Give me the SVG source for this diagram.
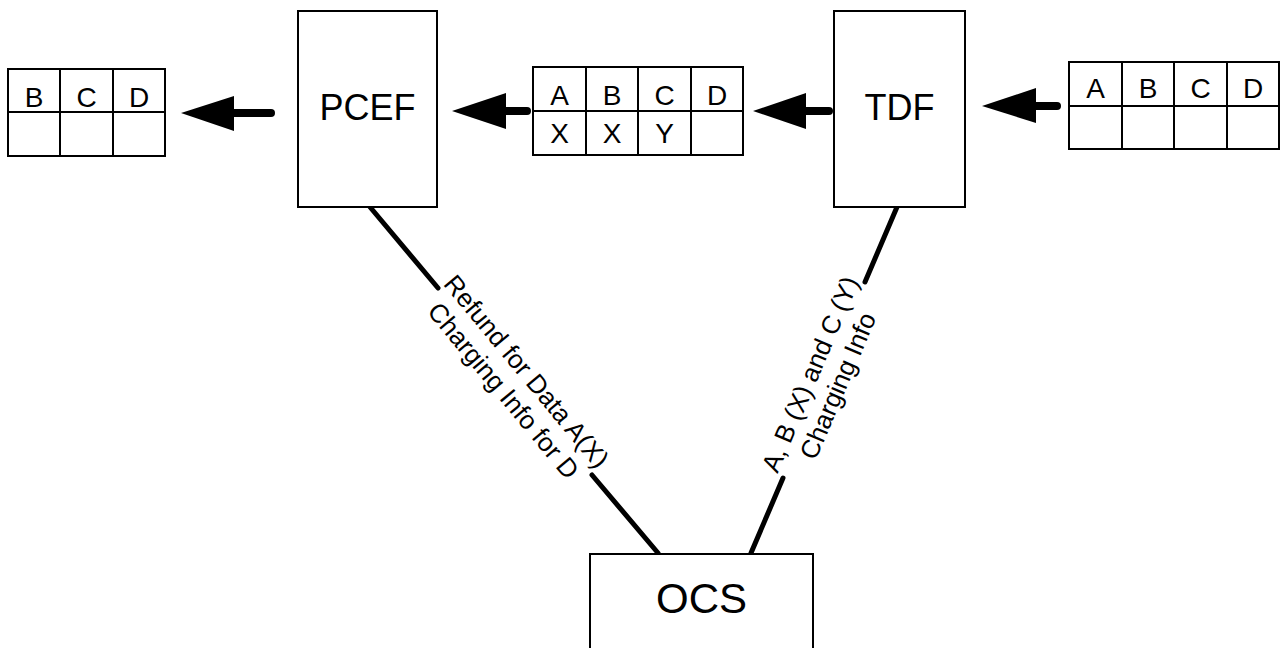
<svg xmlns="http://www.w3.org/2000/svg" width="1280" height="648" viewBox="0 0 1280 648">
<defs>
<style>
.box{fill:#fff;stroke:#000;stroke-width:2}
.grid{fill:none;stroke:#000;stroke-width:2}
.lbl{font-family:"Liberation Sans",Arial,sans-serif;fill:#000;text-anchor:middle}
.cell{font-size:28px}
.big{font-size:36px}
.edge{font-size:26px}
.conn{stroke:#000;stroke-width:5;fill:none;stroke-linecap:round}
.shaft{stroke:#000;stroke-width:8;stroke-linecap:round;fill:none}
.head{fill:#000;stroke:none}
</style>
</defs>
<rect width="1280" height="648" fill="#fff"/>

<g id="connectors">
  <line class="conn" x1="370" y1="207" x2="438" y2="288"/>
  <line class="conn" x1="592" y1="475" x2="658" y2="553"/>
  <line class="conn" x1="897" y1="207" x2="865" y2="282"/>
  <line class="conn" x1="783" y1="478" x2="751" y2="553"/>
  <g id="arrow1">
    <line class="shaft" x1="234" y1="113" x2="271" y2="113"/>
    <polygon class="head" points="181,113 234,96 234,131"/>
  </g>
  <g id="arrow2">
    <line class="shaft" x1="505" y1="111" x2="527" y2="111"/>
    <polygon class="head" points="452,111 506,93 506,129"/>
  </g>
  <g id="arrow3">
    <line class="shaft" x1="805" y1="111" x2="829" y2="111"/>
    <polygon class="head" points="753,111 806,93 806,129"/>
  </g>
  <g id="arrow4">
    <line class="shaft" x1="1035" y1="106" x2="1057" y2="106"/>
    <polygon class="head" points="982,106 1036,88 1036,123"/>
  </g>
  <g id="label-pcef-ocs" transform="rotate(50.3 515 381)">
    <text class="lbl edge" x="515" y="375">Refund for Data A(X)</text>
    <text class="lbl edge" x="515" y="405">Charging Info for D</text>
  </g>
  <g id="label-tdf-ocs" transform="rotate(-67 824 380)">
    <text class="lbl edge" x="824" y="374">A, B (X) and C (Y)</text>
    <text class="lbl edge" x="824" y="404">Charging Info</text>
  </g>
</g>

<g id="table-out">
  <rect class="grid" x="8" y="69" width="157" height="87"/>
  <line class="grid" x1="8" y1="112" x2="165" y2="112"/>
  <line class="grid" x1="60" y1="69" x2="60" y2="156"/>
  <line class="grid" x1="113" y1="69" x2="113" y2="156"/>
  <text class="lbl cell" x="34" y="107">B</text>
  <text class="lbl cell" x="86.5" y="107">C</text>
  <text class="lbl cell" x="139" y="107">D</text>
</g>

<g id="pcef">
  <rect class="box" x="298" y="11" width="139" height="196"/>
  <text class="lbl big" x="367.5" y="120">PCEF</text>
</g>

<g id="table-mid">
  <rect class="grid" x="533" y="67" width="210" height="88"/>
  <line class="grid" x1="533" y1="111" x2="743" y2="111"/>
  <line class="grid" x1="586" y1="67" x2="586" y2="155"/>
  <line class="grid" x1="638" y1="67" x2="638" y2="155"/>
  <line class="grid" x1="691" y1="67" x2="691" y2="155"/>
  <text class="lbl cell" x="559.5" y="105">A</text>
  <text class="lbl cell" x="612" y="105">B</text>
  <text class="lbl cell" x="664.5" y="105">C</text>
  <text class="lbl cell" x="717" y="105">D</text>
  <text class="lbl cell" x="559.5" y="143">X</text>
  <text class="lbl cell" x="612" y="143">X</text>
  <text class="lbl cell" x="664.5" y="143">Y</text>
</g>

<g id="tdf">
  <rect class="box" x="834" y="11" width="131" height="196"/>
  <text class="lbl big" x="899.5" y="120">TDF</text>
</g>

<g id="table-in">
  <rect class="grid" x="1069" y="62" width="210" height="87"/>
  <line class="grid" x1="1069" y1="106" x2="1279" y2="106"/>
  <line class="grid" x1="1122" y1="62" x2="1122" y2="149"/>
  <line class="grid" x1="1174" y1="62" x2="1174" y2="149"/>
  <line class="grid" x1="1227" y1="62" x2="1227" y2="149"/>
  <text class="lbl cell" x="1095.5" y="98">A</text>
  <text class="lbl cell" x="1148" y="98">B</text>
  <text class="lbl cell" x="1200.5" y="98">C</text>
  <text class="lbl cell" x="1253" y="98">D</text>
</g>

<g id="ocs">
  <rect class="box" x="590" y="554" width="223" height="110"/>
  <text class="lbl" style="font-size:42px" x="701.5" y="613">OCS</text>
</g>
</svg>
